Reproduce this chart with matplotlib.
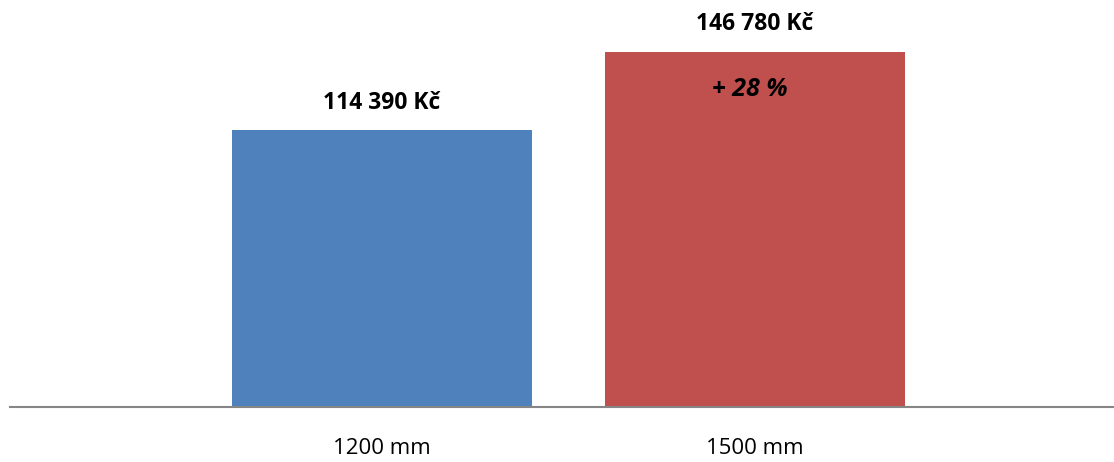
import matplotlib.pyplot as plt

categories = ['1200 mm', '1500 mm']
prices = [114390, 146780]
price_labels = ['114 390 Kč', '146 780 Kč']
colors = ['#4F81BD', '#C0504D']
increase_label = '+ 28 %'

plt.rcParams['font.family'] = ['Open Sans', 'DejaVu Sans']

fig = plt.figure(figsize=(11.14, 4.62), dpi=100)
ax = fig.add_axes([10 / 1114, 55 / 462, 1104 / 1114, 407 / 462])

x = range(len(categories))
bars = ax.bar(x, prices, width=0.804, color=colors)

ax.set_xlim(-0.997, 1.962)
ax.set_ylim(0, 168280)

for b, lab in zip(bars, price_labels):
    ax.annotate(lab, (b.get_x() + b.get_width() / 2, b.get_height()),
                xytext=(0, 20), textcoords='offset points', ha='center', va='center',
                fontsize=16.5, fontweight='bold', color='black')

# increase note inside the red bar
rb = bars[1]
ax.annotate(increase_label, (rb.get_x() + rb.get_width() / 2, rb.get_height()),
            xytext=(-4, -27), textcoords='offset points', ha='center', va='center',
            fontsize=18, fontweight='bold', fontstyle='italic', color='black')

for s in ['top', 'right', 'left']:
    ax.spines[s].set_visible(False)
ax.spines['bottom'].set_color('#868686')
ax.spines['bottom'].set_linewidth(1.5)
ax.set_yticks([])
ax.set_xticks(list(x))
ax.set_xticklabels(categories, fontsize=16)
ax.tick_params(axis='x', length=0, pad=22)

fig.savefig('out.png', dpi=100)
